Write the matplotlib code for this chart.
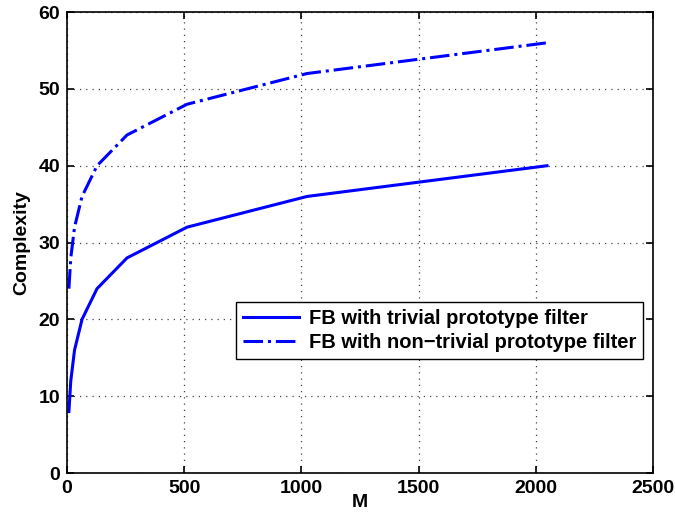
import matplotlib
matplotlib.use('Agg')
import matplotlib.pyplot as plt

plt.rcParams['font.family'] = ['Liberation Sans', 'DejaVu Sans']
plt.rcParams['font.weight'] = 'bold'

M = [8, 16, 32, 64, 128, 256, 512, 1024, 2048]
trivial = [8, 12, 16, 20, 24, 28, 32, 36, 40]
non_trivial = [24, 28, 32, 36, 40, 44, 48, 52, 56]

fig = plt.figure(figsize=(6.75, 5.25), dpi=100)
ax = fig.add_axes([0.0993, 0.099, 0.868, 0.878])

ax.plot(M, trivial, '-', color='#0000ff', lw=2.2, label='FB with trivial prototype filter')
ax.plot(M, non_trivial, '-.', color='#0000ff', lw=2.2, label='FB with non\u2212trivial prototype filter')

ax.set_xlim(0, 2500)
ax.set_ylim(0, 60)
ax.set_xticks([0, 500, 1000, 1500, 2000, 2500])
ax.set_yticks([0, 10, 20, 30, 40, 50, 60])
ax.tick_params(labelsize=14, direction='in', width=1.2, length=5, top=True, right=True, pad=5)
for lbl in ax.get_xticklabels() + ax.get_yticklabels():
    lbl.set_fontweight('bold')
for s in ax.spines.values():
    s.set_linewidth(1.2)
ax.grid(True, linestyle=(0, (1, 4)), color='#444444', lw=0.9)

ax.set_xlabel('M', fontsize=14, fontweight='bold', labelpad=-2)
ax.set_ylabel('Complexity', fontsize=14, fontweight='bold', labelpad=6)

leg = ax.legend(loc='lower right', bbox_to_anchor=(0.983, 0.248), fontsize=14.5,
                fancybox=False, framealpha=1, edgecolor='black', handlelength=2.8,
                handletextpad=0.45, borderpad=0.35, labelspacing=0.25, borderaxespad=0)
leg.get_frame().set_linewidth(1.0)
for t in leg.get_texts():
    t.set_fontweight('bold')

fig.savefig('out.png', dpi=100)
